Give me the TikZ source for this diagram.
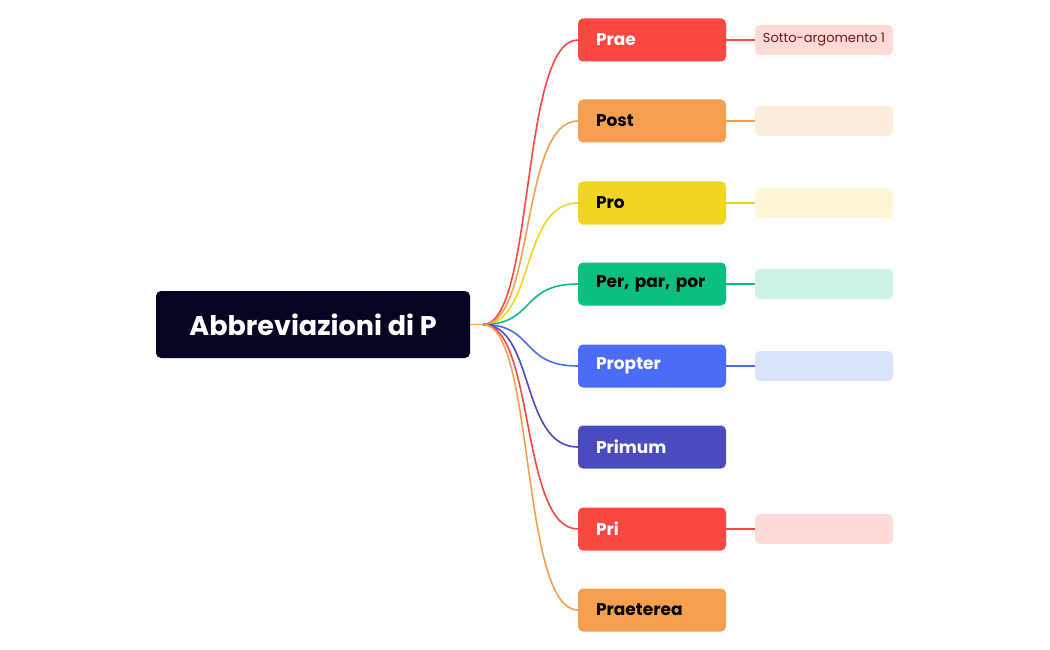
\documentclass[tikz,border=0pt]{standalone}
\usepackage{fontspec}
\setmainfont{Poppins}
\definecolor{cred}{HTML}{F94841}
\definecolor{corange}{HTML}{F5A04F}
\definecolor{cyellow}{HTML}{F2D422}
\definecolor{cgreen}{HTML}{0BBF7D}
\definecolor{cblue}{HTML}{4A6CF7}
\definecolor{cindigo}{HTML}{4B4BC0}
\definecolor{croot}{HTML}{050521}
\definecolor{lred}{HTML}{FDD9D7}
\definecolor{lorange}{HTML}{FDEBDC}
\definecolor{lyellow}{HTML}{FCF6D3}
\definecolor{lgreen}{HTML}{CDF2E4}
\definecolor{lblue}{HTML}{DBE2FC}
\definecolor{subtxt}{HTML}{6B1A16}
\begin{document}
\begin{tikzpicture}[x=1pt,y=-1pt,
  branch/.style={rounded corners=5pt,minimum width=148pt,minimum height=43pt,inner xsep=18pt,text width=112pt,align=left,font=\fontsize{17}{20}\selectfont\bfseries},
  sub/.style={rounded corners=5pt,minimum width=138pt,minimum height=30pt,inner sep=0pt,font=\fontsize{13}{15}\selectfont,text=subtxt},
  conn/.style={line width=1.6pt}]
\useasboundingbox (0,0) rectangle (1050,650);
\node[fill=croot,rounded corners=5pt,minimum width=314pt,minimum height=67pt,text=white,font=\fontsize{27}{32}\selectfont\bfseries] (root) at (313,324.5) {Abbreviazioni di P};
\coordinate (o) at (483,324.5);
\draw[conn,corange] (root.east) -- (o);
\foreach \n/\y/\c/\t/\lab/\l in {
 a/40/cred/white/Prae/lred,
 b/121/corange/black/Post/lorange,
 c/203/cyellow/black/Pro/lyellow,
 d/284/cgreen/black/{Per, par, por}/lgreen,
 e/366/cblue/white/Propter/lblue,
 f/447/cindigo/white/Primum/,
 g/529/cred/white/Pri/lred,
 h/610/corange/black/Praeterea/}{
  \node[branch,fill=\c,text=\t] (\n) at (652,\y) {\lab};
  \draw[conn,\c] (o) .. controls (535,324.5) and (520,\y) .. (\n.west);
}
\foreach \n/\y/\l/\s in {a/40/lred/{Sotto-argomento 1},b/121/lorange/{},c/203/lyellow/{},d/284/lgreen/{},e/366/lblue/{},g/529/lred/{}}{
  \node[sub,fill=\l] (s\n) at (824,\y) {\s};
}
\draw[conn,cred] (a.east) -- (sa.west);
\draw[conn,corange] (b.east) -- (sb.west);
\draw[conn,cyellow] (c.east) -- (sc.west);
\draw[conn,cgreen] (d.east) -- (sd.west);
\draw[conn,cblue] (e.east) -- (se.west);
\draw[conn,cred] (g.east) -- (sg.west);
\end{tikzpicture}
\end{document}
